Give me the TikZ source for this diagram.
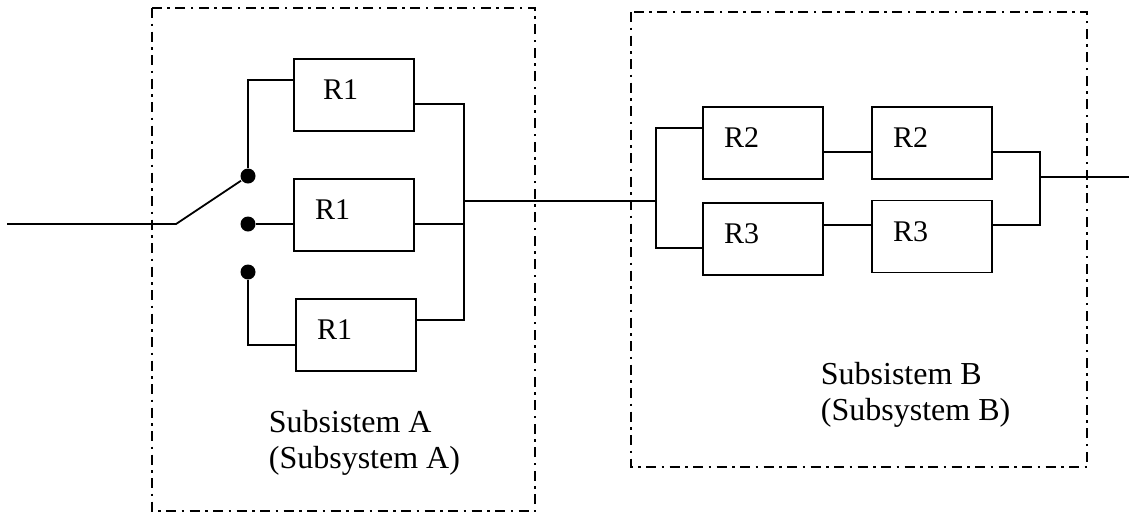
\documentclass[tikz,border=0pt]{standalone}
\usepackage{fontspec}
\setmainfont{Liberation Serif}

\begin{document}
\begin{tikzpicture}[x=0.5pt,y=-0.5pt,line width=0.9pt,
   blok/.style={draw,rectangle,minimum width=60pt,minimum height=36pt,text width=39pt,
                align=left,inner xsep=10.5pt,text depth=5pt,font=\fontsize{15}{18}\selectfont},
   titik/.style={circle,fill,inner sep=0pt,minimum size=7.5pt},
   subsis/.style={draw,line width=1pt,dash pattern=on 5pt off 2.75pt on 1.25pt off 2.75pt},
   ket/.style={anchor=base west,align=left,inner sep=0pt,font=\fontsize{16}{18}\selectfont}]
\useasboundingbox (0,0) rectangle (1129,515);
\draw[subsis] (152,8) rectangle (535,511);
\draw[subsis] (631,12) rectangle (1087,467);
\node[blok,inner xsep=14.5pt,text width=31pt] (r1a) at (354,95) {R1};
\node[blok] (r1b) at (354,215) {R1};
\node[blok] (r1c) at (356,335) {R1};
\node[blok] (r2a) at (763,143) {R2};
\node[blok] (r2b) at (932,143) {R2};
\node[blok] (r3a) at (763,239) {R3};
\node[blok] (r3b) at (932,236.5) {R3};
\node[titik] (t1) at (248,176) {};
\node[titik] (t2) at (248,224) {};
\node[titik] (t3) at (248,272) {};
\coordinate (masuk) at (7,224);
\coordinate (engsel) at (176,224);
\coordinate (busA) at (464,201);
\coordinate (busB) at (656,201);
\coordinate (busC) at (1040,177);
\coordinate (keluar) at (1129,177);
\draw (masuk) -- (engsel) -- (t1);
\draw (t1) |- ([yshift=7.5pt]r1a.west);
\draw (t2) -- (t2 -| r1b.west);
\draw (t3) |- ([yshift=-5pt]r1c.west);
\draw ([yshift=-4.5pt]r1a.east) -| (busA) |- ([yshift=7.5pt]r1c.east);
\draw (r1b.east |- t2) -- (t2 -| busA);
\draw (busA) -- (busB);
\draw ([yshift=7.5pt]r2a.west) -| (busB) |- ([yshift=-4.5pt]r3a.west);
\draw ([yshift=-4.5pt]r2a.east) -- ([yshift=-4.5pt]r2b.west);
\draw ([yshift=7pt]r3a.east) -- ([yshift=5.75pt]r3b.west);
\draw ([yshift=-4.5pt]r2b.east) -| (busC) |- ([yshift=5.75pt]r3b.east);
\draw (busC) -- (keluar);
\node[ket] (ketA) at (268,468) {Subsistem A\\(Subsystem A)};
\node[ket] (ketB) at (820,420) {Subsistem B\\(Subsystem B)};
\end{tikzpicture}
\end{document}
